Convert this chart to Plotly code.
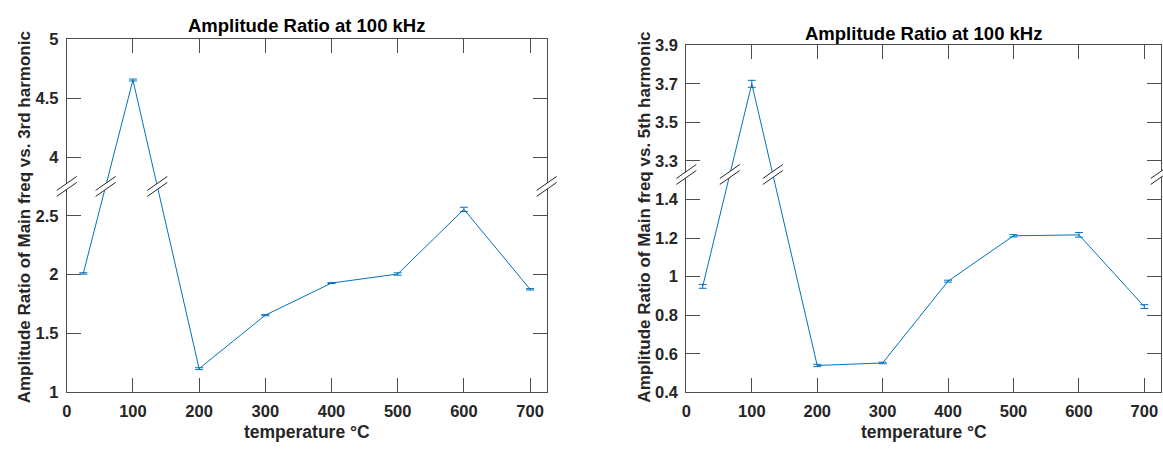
import plotly.graph_objects as go

# ---------------- data ----------------
temps = [25, 100, 200, 300, 400, 500, 600, 700]

ratio_3rd = [2.01, 4.655, 1.20, 1.655, 1.928, 2.005, 2.555, 1.875]
err_3rd = [0.006, 0.008, 0.008, 0.005, 0.004, 0.010, 0.018, 0.006]

ratio_5th = [0.950, 3.700, 0.540, 0.553, 0.977, 1.212, 1.217, 0.845]
err_5th = [0.010, 0.018, 0.006, 0.004, 0.005, 0.006, 0.012, 0.010]

x_ticks = [0, 100, 200, 300, 400, 500, 600, 700]
y_ticks_3rd = [1, 1.5, 2, 2.5, 4, 4.5, 5]
y_ticks_5th = [0.4, 0.6, 0.8, 1, 1.2, 1.4, 3.3, 3.5, 3.7, 3.9]

# broken-axis settings: (lower segment top, removed gap)
break_3rd = (2.75, 1.0)
break_5th = (1.53, 1.7)

title_text = "Amplitude Ratio at 100 kHz"
xlabel = "temperature °C"
ylabel_3rd = "Amplitude Ratio of Main freq vs. 3rd harmonic"
ylabel_5th = "Amplitude Ratio of Main freq vs. 5th harmonic"

# ---------------- style ----------------
W, H = 1163, 454
LINE = "#0072BD"
AX = "#262626"
AXLINE = "#4d4d4d"
FONT = "Liberation Sans"


def tf(v, brk):
    lo, gap = brk
    return v if v <= lo else v - gap


def fmt(v):
    return "%g" % v


fig = go.Figure()

panels = [
    dict(vals=ratio_3rd, err=err_3rd, brk=break_3rd, yt=y_ticks_3rd, ylo=1, yhi=5,
         xa="x", ya="y", px=(62, 544), py=(31.7, 399.0), ylab=ylabel_3rd, ylab_x=19,
         title_y=17),
    dict(vals=ratio_5th, err=err_5th, brk=break_5th, yt=y_ticks_5th, ylo=0.4, yhi=3.9,
         xa="x2", ya="y2", px=(684.3, 1160.7), py=(37.7, 399.3), ylab=ylabel_5th, ylab_x=642,
         title_y=25),
]

shapes = []
annotations = []


def brk_mark(xref, xanchor, yref, yanchor):
    out = [
        dict(type="path", xref=xref, yref=yref, xsizemode="pixel", ysizemode="pixel",
             xanchor=xanchor, yanchor=yanchor,
             path="M-10,-10 L10,4 L10,10 L-10,-4 Z", fillcolor="white",
             line=dict(width=0), layer="above"),
    ]
    for off in (-3, 3):
        out.append(dict(type="line", xref=xref, yref=yref, xsizemode="pixel", ysizemode="pixel",
                        xanchor=xanchor, yanchor=yanchor,
                        x0=-10, y0=-7 + off, x1=10, y1=7 + off,
                        line=dict(color=AX, width=1), layer="above"))
    return out


layout_axes = {}
for i, p in enumerate(panels):
    ty = [tf(v, p["brk"]) for v in p["vals"]]
    fig.add_trace(go.Scatter(
        x=temps, y=ty, mode="lines",
        line=dict(color=LINE, width=1),
        error_y=dict(type="data", array=p["err"], width=4, thickness=1, color=LINE),
        xaxis=p["xa"], yaxis=p["ya"], showlegend=False,
        hoverinfo="skip",
    ))
    xdom = [p["px"][0] / W, p["px"][1] / W]
    ydom = [(H - p["py"][1]) / H, (H - p["py"][0]) / H]
    suffix = "" if i == 0 else "2"
    layout_axes["xaxis" + suffix] = dict(
        domain=xdom, range=[0, 725], anchor=p["ya"], tickvals=x_ticks,
        ticktext=[str(t) for t in x_ticks],
        ticks="inside", ticklen=14, tickcolor=AXLINE, tickwidth=1,
        showline=True, linecolor=AXLINE, linewidth=1, mirror="ticks",
        showgrid=False, zeroline=False, ticklabelstandoff=4,
        tickfont=dict(family=FONT, size=16.5, color=AX, weight="bold"),
    )
    layout_axes["yaxis" + suffix] = dict(
        domain=ydom, range=[tf(p["ylo"], p["brk"]), tf(p["yhi"], p["brk"])], anchor=p["xa"],
        tickvals=[tf(v, p["brk"]) for v in p["yt"]], ticktext=[fmt(v) for v in p["yt"]],
        ticks="inside", ticklen=14, tickcolor=AXLINE, tickwidth=1,
        showline=True, linecolor=AXLINE, linewidth=1, mirror="ticks",
        showgrid=False, zeroline=False, ticklabelstandoff=4,
        tickfont=dict(family=FONT, size=16.5, color=AX, weight="bold"),
    )

    lo = p["brk"][0]
    # break marks on both y-axis lines
    shapes += brk_mark(p["xa"] + " domain", 0, p["ya"], lo)
    shapes += brk_mark(p["xa"] + " domain", 1, p["ya"], lo)
    # break marks where the data line crosses the break
    for k in range(len(temps) - 1):
        a, b = ty[k], ty[k + 1]
        if (a - lo) * (b - lo) < 0:
            f = (lo - a) / (b - a)
            xc = temps[k] + f * (temps[k + 1] - temps[k])
            shapes += brk_mark(p["xa"], xc, p["ya"], lo)

    cx = (p["px"][0] + p["px"][1]) / 2 / W
    annotations.append(dict(text="<b>%s</b>" % title_text, x=cx, y=1 - p["title_y"] / H,
                            xref="paper", yref="paper", showarrow=False,
                            xanchor="center", yanchor="middle",
                            font=dict(family=FONT, size=18.5, color="black")))
    annotations.append(dict(text="<b>%s</b>" % xlabel, x=cx, y=1 - 440 / H,
                            xref="paper", yref="paper", showarrow=False,
                            xanchor="center", yanchor="middle",
                            font=dict(family=FONT, size=17.5, color=AX)))
    annotations.append(dict(text="<b>%s</b>" % p["ylab"], x=p["ylab_x"] / W, y=1 - 217 / H,
                            xref="paper", yref="paper", showarrow=False, textangle=-90,
                            xanchor="center", yanchor="middle",
                            font=dict(family=FONT, size=17, color=AX)))

fig.update_layout(
    width=W, height=H,
    margin=dict(l=0, r=0, t=0, b=0),
    paper_bgcolor="white", plot_bgcolor="white",
    showlegend=False,
    shapes=shapes, annotations=annotations,
    font=dict(family=FONT),
    **layout_axes,
)

fig.write_html(
    "out.html",
    config={"displayModeBar": False},
    post_script="document.body.style.margin='0';document.body.style.overflow='hidden';",
)
